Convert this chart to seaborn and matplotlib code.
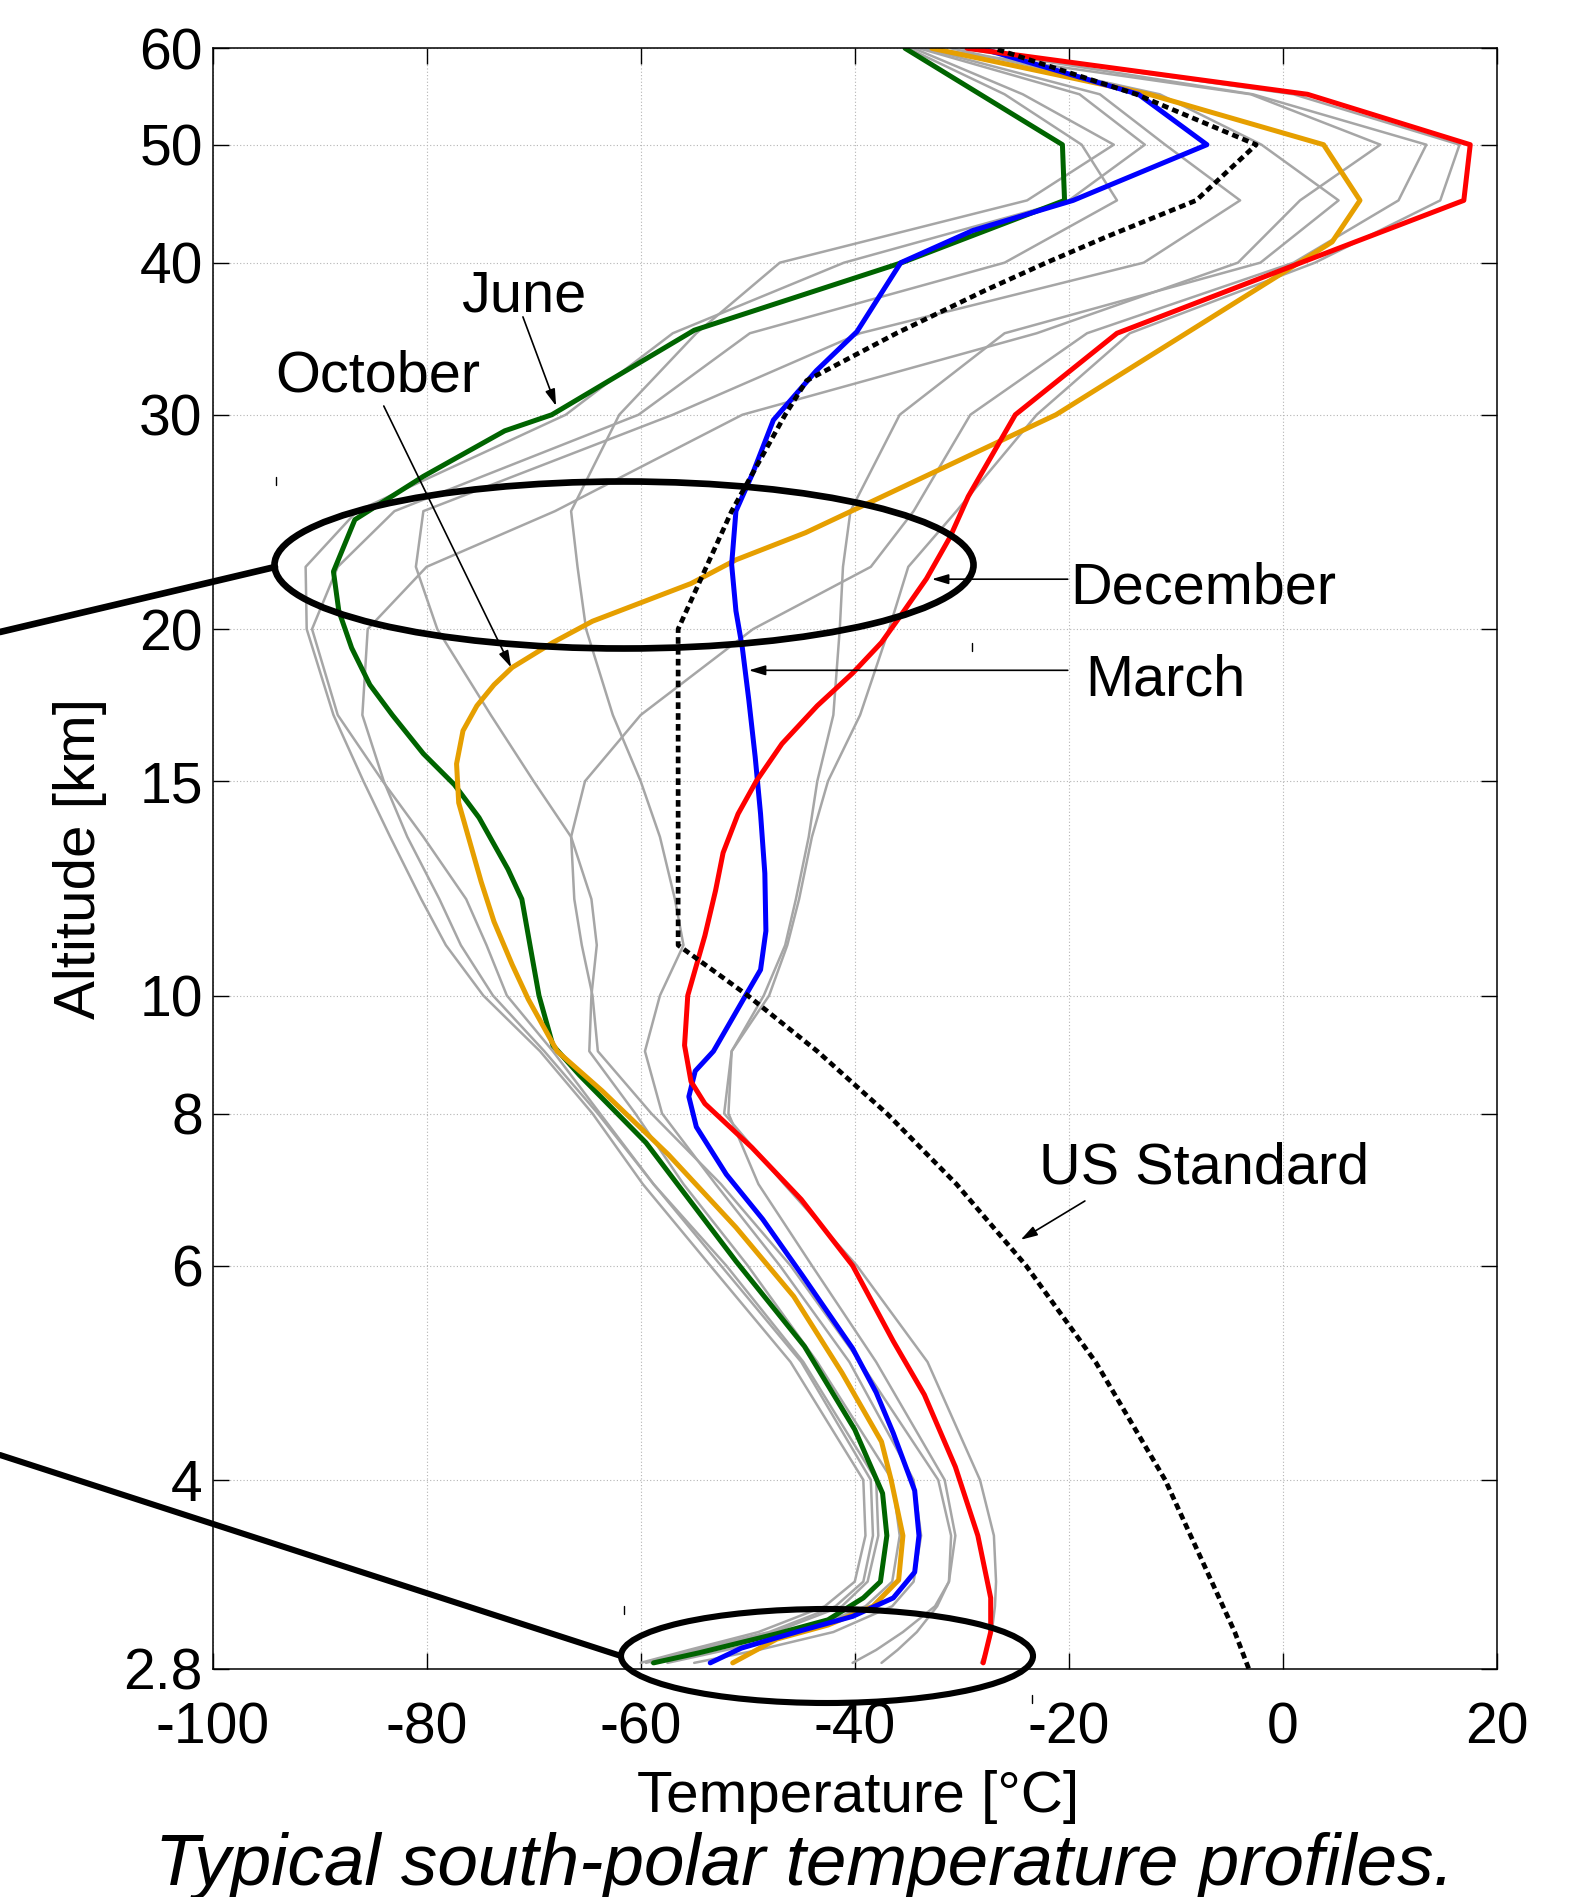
import numpy as np
import pandas as pd
import matplotlib
matplotlib.use("Agg")
import matplotlib.pyplot as plt
import matplotlib.transforms as mtransforms
from matplotlib.patches import Ellipse
from matplotlib.lines import Line2D
from matplotlib.ticker import FixedLocator, NullLocator
import seaborn as sns

# ---------------- data ----------------
x_ticks = [-100, -80, -60, -40, -20, 0, 20]
y_ticks = [2.8, 4, 6, 8, 10, 15, 20, 30, 40, 50, 60]
y_tick_labels = ["2.8", "4", "6", "8", "10", "15", "20", "30", "40", "50", "60"]

june_alt = [2.83, 2.885, 2.99, 3.07, 3.2, 3.3, 3.6, 3.9, 4.4, 5.15, 6.05, 7.57, 8.6, 9.1, 10.0, 10.95,
            12.0, 12.7, 14.0, 14.9, 15.8, 17.0, 18.0, 19.3, 20.7, 22.3, 24.6, 26.7, 29.1, 30.0, 35.2,
            40.0, 45.0, 50.0, 60.0]
june_t = [-58.8, -54.5, -47.3, -42.5, -39.2, -37.6, -37.0, -37.4, -40.0, -44.7, -51.1, -59.5, -65.7,
          -68.2, -69.5, -70.3, -71.1, -72.4, -75.1, -77.4, -80.3, -83.2, -85.3, -87.0, -88.2, -88.7,
          -86.7, -80.3, -72.7, -68.3, -55.0, -35.6, -20.4, -20.6, -35.3]

october_alt = [2.83, 2.96, 3.04, 3.15, 3.31, 3.6, 4.0, 4.3, 4.9, 5.66, 6.45, 7.4, 8.35, 9.0, 9.93, 10.6,
               11.5, 12.4, 13.6, 14.4, 15.5, 16.5, 17.3, 18.0, 18.6, 19.5, 20.3, 21.8, 22.8, 24.0, 30.0,
               41.6, 45.0, 50.0, 55.0, 60.0]
october_t = [-51.4, -47.3, -42.5, -38.3, -35.9, -35.5, -36.6, -37.5, -41.2, -45.7, -51.1, -57.4, -63.6,
             -67.8, -70.5, -72.0, -73.7, -74.9, -76.2, -77.0, -77.2, -76.6, -75.3, -73.7, -72.0, -68.2,
             -64.5, -55.3, -51.1, -44.6, -21.2, 4.6, 7.2, 3.8, -12.5, -32.8]

march_alt = [2.83, 2.91, 3.01, 3.09, 3.2, 3.36, 3.6, 3.92, 4.37, 4.72, 5.13, 5.89, 6.55, 7.13, 7.8, 8.26,
             8.67, 9.0, 10.0, 10.5, 11.3, 12.6, 14.1, 15.7, 17.5, 19.3, 20.7, 22.6, 25.0, 26.9, 29.7,
             32.6, 35.1, 40.0, 42.5, 45.0, 50.0, 55.0, 60.0]
march_t = [-53.5, -50.6, -44.9, -40.2, -36.4, -34.4, -34.0, -34.4, -36.4, -38.0, -40.2, -44.9, -48.6,
           -52.0, -54.8, -55.5, -54.9, -53.2, -50.2, -48.8, -48.3, -48.4, -48.8, -49.3, -49.9, -50.5,
           -51.1, -51.5, -51.1, -49.5, -47.6, -43.6, -39.8, -35.7, -29.0, -19.6, -7.1, -13.5, -28.2]

december_alt = [2.83, 3.0, 3.2, 3.6, 4.1, 4.7, 5.2, 6.0, 6.8, 7.5, 8.15, 8.5, 9.1, 10.0, 11.2, 12.2, 13.1,
                14.1, 15.0, 16.1, 17.3, 18.4, 19.5, 20.7, 22.0, 23.8, 25.7, 30.0, 35.0, 41.2, 45.0,
                50.0, 55.0, 60.0]
december_t = [-28.0, -27.3, -27.3, -28.5, -30.6, -33.5, -36.4, -40.2, -45.0, -49.6, -54.0, -55.3, -55.9,
              -55.6, -54.0, -53.0, -52.3, -50.9, -49.2, -46.8, -43.5, -40.2, -37.5, -35.4, -33.3, -31.1,
              -29.4, -25.0, -15.5, 5.5, 16.9, 17.5, 2.3, -29.5]

us_std_alt = [2.8, 3, 4, 5, 6, 7, 8, 9, 10, 11, 20, 25, 30, 32, 35, 38, 40, 42, 45, 50, 55, 60]
us_std_t = [-3.2, -4.5, -11.0, -17.5, -24.0, -30.5, -37.0, -43.5, -50.0, -56.5, -56.5, -51.5, -46.5,
            -44.5, -36.1, -27.7, -22.1, -16.5, -8.1, -2.5, -13.7, -27.0]

# other months (grey), shared altitude grid
gray_alt = [2.83, 2.9, 3.0, 3.15, 3.3, 3.6, 4, 5, 6, 7, 8, 9, 10, 11, 12, 13.5, 15, 17, 20, 22.5, 25,
            30, 35, 40, 45, 50, 55, 60]
gray_a = [-60.0, -55.5, -49.0, -42.8, -40.0, -39.0, -39.2, -46.0, -53.5, -59.8, -64.5, -69.4, -74.7, -78.2,
          -80.5, -83.4, -85.9, -88.7, -91.2, -91.3, -86.5, -67.0, -57.0, -41.0, -20.0, -12.9, -19.0, -34.0]
gray_b = [-59.5, -55.0, -48.0, -41.8, -39.2, -38.3, -38.5, -45.0, -52.5, -58.8, -63.8, -68.2, -72.5, -74.4,
          -76.3, -80.3, -84.1, -88.3, -90.7, -88.3, -83.0, -60.2, -49.8, -26.0, -15.5, -18.8, -26.0, -35.0]
gray_c = [-59.0, -54.5, -47.5, -41.2, -38.8, -37.8, -38.0, -44.8, -52.0, -58.8, -64.0, -69.0, -73.8, -76.8,
          -78.8, -81.8, -84.0, -86.0, -85.5, -80.0, -68.0, -50.5, -23.0, -4.2, 1.6, 9.1, -3.0, -33.0]
gray_d = [-57.5, -52.0, -45.0, -39.0, -36.5, -35.8, -36.5, -43.5, -50.0, -56.0, -60.5, -64.8, -64.6, -64.1,
          -64.6, -66.5, -70.0, -74.0, -79.0, -81.0, -80.3, -57.0, -39.5, -13.0, -4.0, -11.0, -17.1, -33.5]
gray_e = [-55.0, -49.0, -42.0, -36.5, -34.5, -33.8, -34.5, -40.5, -47.0, -53.0, -58.0, -59.6, -58.2, -56.0,
          -56.8, -58.2, -60.0, -62.6, -65.1, -65.9, -66.5, -62.0, -54.8, -47.0, -23.9, -15.8, -24.3, -34.5]
gray_f = [-37.5, -36.0, -34.2, -32.3, -31.2, -31.0, -32.2, -39.5, -46.0, -52.5, -59.0, -64.0, -64.5, -65.5,
          -66.2, -66.5, -65.2, -60.0, -49.5, -38.5, -34.5, -29.2, -18.3, 1.0, 10.8, 13.4, -2.8, -30.0]
gray_g = [-28.2, -27.7, -27.2, -26.9, -26.8, -27.0, -28.3, -33.2, -39.8, -46.6, -52.2, -51.5, -48.0, -46.3,
          -45.2, -44.0, -42.5, -39.5, -36.8, -35.0, -30.5, -23.0, -14.3, 3.0, 14.7, 16.5, 1.0, -29.5]
gray_h = [-40.2, -38.0, -35.5, -32.5, -31.2, -30.6, -31.6, -38.0, -44.0, -49.0, -51.8, -51.5, -48.5, -46.5,
          -45.5, -44.3, -43.5, -42.0, -41.4, -41.1, -40.4, -35.8, -26.0, -2.1, 5.2, -2.0, -11.5, -31.0]
gray_months = ["a", "b", "c", "d", "e", "f", "g", "h"]

# ---------------- styling ----------------
sns.set_style("white")
plt.rcParams["font.family"] = ["Liberation Sans", "DejaVu Sans"]
plt.rcParams["axes.unicode_minus"] = False
plt.rcParams["text.color"] = "black"
plt.rcParams["axes.labelcolor"] = "black"
plt.rcParams["xtick.color"] = "black"
plt.rcParams["ytick.color"] = "black"

W, H = 1596, 1897
fig = plt.figure(figsize=(W / 100, H / 100), dpi=100)
ax = fig.add_axes([212.5 / W, 1 - 1668.5 / H, 1284.5 / W, 1620.2 / H])
ax.set_yscale("log")

GRAY = "#a6a6a6"
GREEN = "#006400"
ORANGE = "#e69f00"
BLUE = "#0000ff"
RED = "#ff0000"

gray_series = [gray_a, gray_b, gray_c, gray_d, gray_e, gray_f, gray_g, gray_h]
gray_df = pd.DataFrame({
    "month": np.repeat(gray_months, len(gray_alt)),
    "alt": np.tile(gray_alt, len(gray_months)),
    "temp": np.concatenate(gray_series),
})
sns.lineplot(data=gray_df, x="temp", y="alt", units="month", estimator=None, sort=False,
             color=GRAY, linewidth=1.8, ax=ax, legend=False)

for alts, temps, col in [(june_alt, june_t, GREEN), (october_alt, october_t, ORANGE),
                         (march_alt, march_t, BLUE), (december_alt, december_t, RED)]:
    sns.lineplot(x=temps, y=alts, sort=False, estimator=None, color=col, linewidth=3.6, ax=ax)

sns.lineplot(x=us_std_t, y=us_std_alt, sort=False, estimator=None, color="black", linewidth=3.4,
             linestyle=(0, (1.4, 0.9)), ax=ax)

ax.set_xlim(-100, 20)
ax.set_ylim(2.8, 60)
ax.xaxis.set_major_locator(FixedLocator(x_ticks))
ax.set_xticklabels([str(v) for v in x_ticks])
ax.yaxis.set_major_locator(FixedLocator(y_ticks))
ax.yaxis.set_minor_locator(NullLocator())
ax.set_yticklabels(y_tick_labels)
ax.tick_params(axis="both", which="major", direction="in", length=11.5, width=1.0, colors="black",
               labelsize=41, top=True, right=True, bottom=True, left=True)
ax.tick_params(axis="x", pad=24)
ax.tick_params(axis="y", pad=7)
ax.grid(True, which="major", linestyle=(0, (1, 2)), color="#b4b4b4", linewidth=0.8)
ax.set_axisbelow(True)
for s in ax.spines.values():
    s.set_color("black")
    s.set_linewidth(1.1)

ax.set_xlabel("Temperature [°C]", fontsize=42, color="black")
ax.xaxis.set_label_coords(0.5025, (1668.5 - 1812) / 1620.2)
ax.xaxis.label.set_va("baseline")
ax.set_ylabel("Altitude [km]", fontsize=42, color="black")
ax.yaxis.set_label_coords(-0.0825, 0.5)

fig.text(804.5 / W, (H - 1885) / H, "Typical south-polar temperature profiles.", fontsize=52.5,
         style="italic", ha="center", va="baseline", color="black")

# annotations
TXT = 41.5
ax.text(-76.8, 36.5, "June", fontsize=TXT, ha="left", va="baseline", color="black")
ax.text(-94.1, 31.35, "October", fontsize=TXT, ha="left", va="baseline", color="black")
ax.text(-19.9, 21.0, "December", fontsize=TXT, ha="left", va="baseline", color="black")
ax.text(-18.5, 17.65, "March", fontsize=TXT, ha="left", va="baseline", color="black")
ax.text(-22.8, 7.01, "US Standard", fontsize=TXT, ha="left", va="baseline", color="black")

arrow_kw = dict(arrowstyle="-|>,head_length=1.0,head_width=0.3", color="black", lw=1.2,
                shrinkA=0, shrinkB=0)
for tail, head in [((-71.0, 36.1), (-67.9, 30.5)), ((-84.0, 30.5), (-72.1, 18.6)),
                   ((-20.1, 21.98), (-32.8, 21.98)), ((-20.1, 18.5), (-49.9, 18.5)),
                   ((-18.5, 6.78), (-24.5, 6.30))]:
    ax.annotate("", xy=head, xytext=tail, arrowprops=arrow_kw)

# zoom ellipses drawn in figure pixel coordinates (origin top-left)
pix = mtransforms.Affine2D().scale(1 / W, -1 / H).translate(0, 1) + fig.transFigure
fig.patches.append(Ellipse((624, 565), 699, 167, transform=pix, fill=False, lw=4.8, ec="black"))
fig.patches.append(Ellipse((827, 1656), 412, 94, transform=pix, fill=False, lw=4.4, ec="black"))
fig.lines.append(Line2D([275, 0], [567, 632], transform=pix, lw=4.8, color="black"))
fig.lines.append(Line2D([621, 0], [1656, 1455], transform=pix, lw=4.4, color="black"))
for (px, py) in [(276, 481), (972, 647), (624, 1610), (1032, 1699)]:
    fig.lines.append(Line2D([px, px], [py - 4, py + 4], transform=pix, lw=1.0, color="black"))

fig.savefig("out.png", dpi=100)
